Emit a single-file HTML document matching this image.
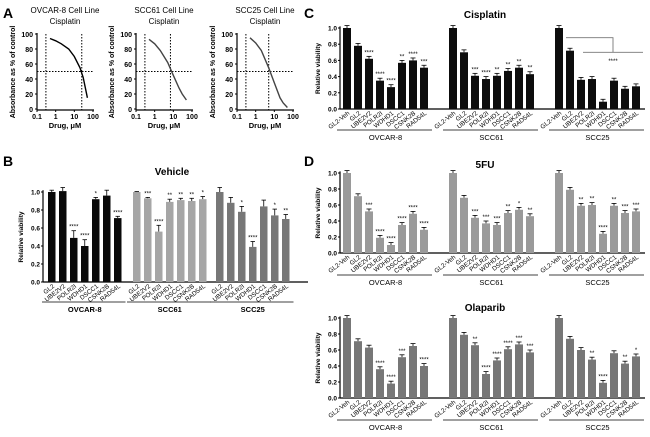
<!DOCTYPE html>
<html><head><meta charset="utf-8">
<style>
html,body{margin:0;padding:0;background:#fff;}
svg{display:block;font-family:"Liberation Sans",Arial,sans-serif;}
</style></head>
<body>
<svg id="fig" width="650" height="437" viewBox="0 0 650 437" xmlns="http://www.w3.org/2000/svg">
<text x="3" y="18" font-size="14" font-weight="bold">A</text>
<text x="3" y="166" font-size="14" font-weight="bold">B</text>
<text x="304" y="18" font-size="14" font-weight="bold">C</text>
<text x="304" y="166" font-size="14" font-weight="bold">D</text>
</svg>
<script>
// ---- Panel A data ----
const doseX = [0.5, 1, 2, 5, 10, 20, 30, 50];
const curveOvcar = [94, 91, 87, 80, 70, 55, 42, 15];
const curveScc61 = [93, 87, 78, 62, 45, 28, 20, 12];
const curveScc25 = [95, 88, 78, 55, 35, 15, 8, 2];
const ic50s = [25, 7, 5];
const aTitles = ["OVCAR-8 Cell Line", "SCC61 Cell Line", "SCC25 Cell Line"];
const aYTicks = [0, 20, 40, 60, 80, 100];
const aXTicks = [0.1, 1, 10, 100];

// ---- Bar chart data ----
const genesB = ["GL2","UBE2V2","POLR2I","WDHD1","DSCC1","CSNK2B","RAD54L"];
const genesCD = ["GL2-Veh","GL2","UBE2V2","POLR2I","WDHD1","DSCC1","CSNK2B","RAD54L"];
const cellLines = ["OVCAR-8","SCC61","SCC25"];
const vehOvcar = [1.0,1.01,0.49,0.40,0.92,0.96,0.71];
const vehScc61 = [1.0,0.93,0.56,0.89,0.91,0.90,0.92];
const vehScc25 = [1.0,0.88,0.78,0.39,0.84,0.74,0.70];
const vehErr = [[0.02,0.04,0.08,0.07,0.02,0.06,0.02],[0.005,0.01,0.07,0.03,0.02,0.03,0.03],[0.05,0.06,0.06,0.06,0.07,0.07,0.05]];
const vehStars = [["","","****","****","*","","****"],["","***","****","**","**","**","*"],["","","*","****","","*","**"]];
const cisOvcar = [1.0,0.78,0.62,0.35,0.27,0.57,0.60,0.51];
const cisScc61 = [1.0,0.70,0.41,0.37,0.41,0.47,0.51,0.43];
const cisScc25 = [1.0,0.72,0.36,0.37,0.09,0.35,0.25,0.28];
const cisStars = [["","","****","****","****","**","****","***"],["","","***","****","**","**","**","**"],["","","","","","","",""]];
const fuOvcar = [1.0,0.71,0.52,0.19,0.10,0.35,0.49,0.29];
const fuScc61 = [1.0,0.69,0.44,0.37,0.35,0.50,0.54,0.46];
const fuScc25 = [1.0,0.79,0.59,0.60,0.24,0.59,0.50,0.52];
const fuStars = [["","","***","****","****","****","****","****"],["","","***","***","***","**","*","**"],["","","**","**","****","**","***","***"]];
const olaOvcar = [1.0,0.71,0.63,0.36,0.18,0.51,0.65,0.40];
const olaScc61 = [1.0,0.79,0.66,0.30,0.47,0.61,0.67,0.57];
const olaScc25 = [1.0,0.74,0.60,0.48,0.19,0.56,0.43,0.52];
const olaStars = [["","","","****","****","***","","****"],["","","**","****","****","****","***","***"],["","","","**","****","","**","*"]];
const yTicksBar = [0.0,0.2,0.4,0.6,0.8,1.0];

const NS = "http://www.w3.org/2000/svg";
const svg = document.getElementById('fig');
function el(tag, attrs, parent, txt){
  const e = document.createElementNS(NS, tag);
  for (const k in attrs) e.setAttribute(k, attrs[k]);
  if (txt !== undefined) e.textContent = txt;
  (parent || svg).appendChild(e);
  return e;
}

// ---- Panel A ----
const curves = [curveOvcar, curveScc61, curveScc25];
[37, 136, 237].forEach((x0, p) => {
  const g = el('g', {});
  
  
  const xs = v => x0 + (Math.log10(v) + 1) / 3 * 56;
  const ys = v => 109 - v / 100 * 75;
  const t1 = el('text', {x: x0 + 28, y: 13, 'font-size': 8, 'text-anchor': 'middle'}, g, aTitles[p]);
  
  
  el('text', {x: x0 + 28, y: 24, 'font-size': 8, 'text-anchor': 'middle'}, g, 'Cisplatin');
  el('line', {x1: x0, y1: 33, x2: x0, y2: 110, stroke: '#000', 'stroke-width': 1.2}, g);
  el('line', {x1: x0, y1: 110, x2: x0 + 57, y2: 110, stroke: '#000', 'stroke-width': 1.2}, g);
  aYTicks.forEach(t => {
    el('line', {x1: x0 - 2, y1: ys(t), x2: x0, y2: ys(t), stroke: '#000'}, g);
    el('text', {x: x0 - 4, y: ys(t) + 3, 'font-size': 7, 'font-weight': 'bold', 'text-anchor': 'end'}, g, t);
  });
  aXTicks.forEach(t => {
    el('line', {x1: xs(t), y1: 110, x2: xs(t), y2: 112, stroke: '#000'}, g);
    el('text', {x: xs(t), y: 119, 'font-size': 7, 'font-weight': 'bold', 'text-anchor': 'middle'}, g, t);
  });
  const xl = el('text', {x: x0 + 28, y: 128, 'font-size': 7.5, 'font-weight': 'bold', 'text-anchor': 'middle'}, g, 'Drug, μM');
  
  
  const yl = el('text', {x: 0, y: 0, 'font-size': 7, 'font-weight': 'bold', 'text-anchor': 'middle', transform: `translate(${x0 - 22},72) rotate(-90)`}, g, 'Absorbance as % of control');
  
  
  const dash = {stroke: '#000', 'stroke-dasharray': '1.5,1.5', 'stroke-width': 1};
  el('line', Object.assign({x1: xs(0.3), y1: 34, x2: xs(0.3), y2: 110}, dash), g);
  el('line', Object.assign({x1: xs(ic50s[p]), y1: 34, x2: xs(ic50s[p]), y2: 110}, dash), g);
  el('line', Object.assign({x1: x0, y1: ys(50), x2: x0 + 57, y2: ys(50)}, dash), g);
  const pts = doseX.map((d, i) => xs(d).toFixed(1) + ',' + ys(curves[p][i]).toFixed(1)).join(' ');
  const c = el('polyline', {points: pts, fill: 'none', stroke: p === 0 ? '#000' : '#444', 'stroke-width': 1.4}, g);
  
  
});

// ---- bar chart builder ----
function barChart(o){
  const g = el('g', {});
  
  
  const ys = v => o.y0 - v * (o.y0 - o.y1);
  const tt = el('text', {x: o.titleX, y: o.titleY, 'font-size': 10, 'font-weight': 'bold', 'text-anchor': 'middle'}, g, o.title);
  
  
  el('line', {x1: o.ax, y1: ys(1.02), x2: o.ax, y2: o.y0, stroke: '#000', 'stroke-width': 1.2}, g);
  el('line', {x1: o.ax, y1: o.y0, x2: o.axEnd, y2: o.y0, stroke: '#000', 'stroke-width': 1.2}, g);
  yTicksBar.forEach(t => {
    el('line', {x1: o.ax - 2, y1: ys(t), x2: o.ax, y2: ys(t), stroke: '#000'}, g);
    el('text', {x: o.ax - 3, y: ys(t) + 2.5, 'font-size': 6.5, 'font-weight': 'bold', 'text-anchor': 'end'}, g, t.toFixed(1));
  });
  const yl = el('text', {x: 0, y: 0, 'font-size': 6.5, 'font-weight': 'bold', 'text-anchor': 'middle', transform: `translate(${o.ax - 20},${(o.y0 + o.y1) / 2}) rotate(-90)`}, g, 'Relative viability');
  
  
  o.series.forEach((vals, gi) => {
    const gx = o.groupX[gi];
    const col = Array.isArray(o.color) ? o.color[gi] : o.color;
    vals.forEach((v, i) => {
      const x = gx + i * o.pitch;
      const err = o.err ? o.err[gi][i] : 0.03;
      el('line', {x1: x + o.bw / 2, y1: ys(v), x2: x + o.bw / 2, y2: ys(v + err), stroke: '#000', 'stroke-width': 0.8}, g);
      el('line', {x1: x + 1.5, y1: ys(v + err), x2: x + o.bw - 1.5, y2: ys(v + err), stroke: '#000', 'stroke-width': 0.8}, g);
      const b = el('rect', {x: x, y: ys(v), width: o.bw, height: o.y0 - ys(v), fill: col}, g);
      
      
      const s = o.stars[gi][i];
      if (s) el('text', {x: x + o.bw / 2, y: ys(v + err) - 2, 'font-size': 6, 'text-anchor': 'middle'}, g, s);
      el('text', {x: 0, y: 0, 'font-size': 6.3, 'text-anchor': 'end', transform: `translate(${x + o.bw / 2 + 3},${o.y0 + 5}) rotate(-38)`}, g, o.genes[i]);
    });
    const gEnd = gx + (vals.length - 1) * o.pitch + o.bw;
    const l = el('line', {x1: gx - 6, y1: o.lineY, x2: gEnd + 4, y2: o.lineY, stroke: '#000', 'stroke-width': 0.8}, g);
    
    
    const gl = el('text', {x: (gx + gEnd) / 2, y: o.lineY + 10, 'font-size': 7.5, 'font-weight': o.boldGroup ? 'bold' : 'normal', 'text-anchor': 'middle'}, g, o.cells[gi]);
    
    
  });
  return {g, ys};
}

barChart({name: 'vehicle-chart', title: 'Vehicle', titleX: 172, titleY: 175, ax: 43, axEnd: 308, y0: 282, y1: 192,
  groupX: [48, 133, 216], pitch: 11, bw: 7.5, series: [vehOvcar, vehScc61, vehScc25], err: vehErr, stars: vehStars,
  genes: genesB, cells: cellLines, color: ['#0a0a0a', '#a6a6a6', '#777777'], lineY: 302, boldGroup: true});

const cis = barChart({name: 'cisplatin-chart', title: 'Cisplatin', titleX: 485, titleY: 18, ax: 340, axEnd: 645, y0: 109, y1: 28,
  groupX: [343, 449, 555], pitch: 11, bw: 8, series: [cisOvcar, cisScc61, cisScc25], stars: cisStars,
  genes: genesCD, cells: cellLines, color: '#0d0d0d', lineY: 130});
// significance bracket SCC25
el('polyline', {points: `${566},${cis.ys(0.88)} ${613},${cis.ys(0.88)} ${613},${cis.ys(0.70)}`, fill: 'none', stroke: '#777', 'stroke-width': 0.9}, cis.g);
el('line', {x1: 583, y1: cis.ys(0.70), x2: 643, y2: cis.ys(0.70), stroke: '#777', 'stroke-width': 0.9}, cis.g);
el('text', {x: 613, y: cis.ys(0.57), 'font-size': 6, 'text-anchor': 'middle'}, cis.g, '****');

barChart({name: '5fu-chart', title: '5FU', titleX: 485, titleY: 168, ax: 340, axEnd: 645, y0: 253, y1: 173,
  groupX: [343, 449, 555], pitch: 11, bw: 8, series: [fuOvcar, fuScc61, fuScc25], stars: fuStars,
  genes: genesCD, cells: cellLines, color: '#9a9a9a', lineY: 275});

barChart({name: 'olaparib-chart', title: 'Olaparib', titleX: 485, titleY: 311, ax: 340, axEnd: 645, y0: 398, y1: 318,
  groupX: [343, 449, 555], pitch: 11, bw: 8, series: [olaOvcar, olaScc61, olaScc25], stars: olaStars,
  genes: genesCD, cells: cellLines, color: '#777777', lineY: 420});
</script>
</body></html>
